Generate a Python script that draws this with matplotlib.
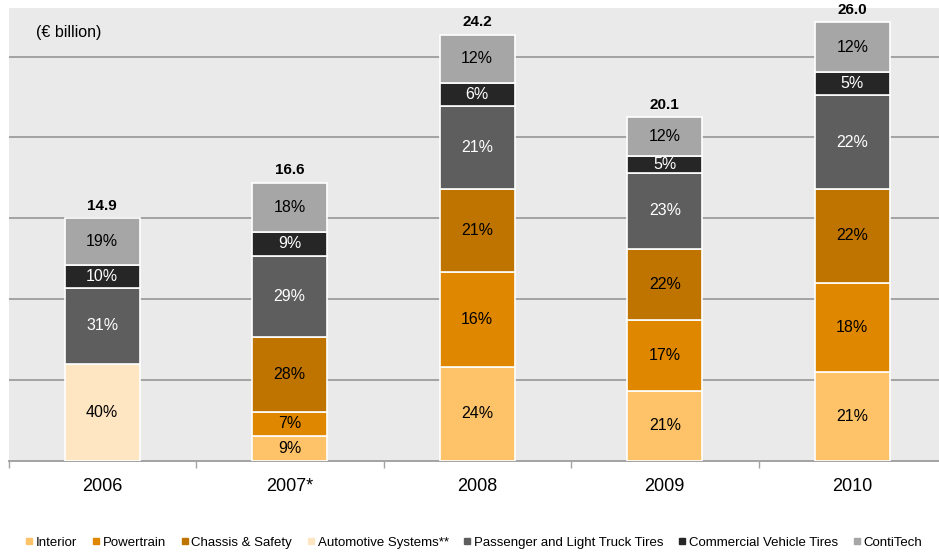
#!/usr/bin/env python3
from __future__ import annotations

import matplotlib

matplotlib.use("Agg")
import matplotlib.pyplot as plt
from matplotlib.lines import Line2D

plt.rcParams["font.family"] = ["Liberation Sans", "DejaVu Sans"]

YEARS = ["2006", "2007*", "2008", "2009", "2010"]
TOTALS = ["14.9", "16.6", "24.2", "20.1", "26.0"]

# divisional sales in EUR bn (None = no segment that year)
INTERIOR = [None, 1.56, 5.83, 4.35, 5.50]
POWERTRAIN = [None, 1.48, 5.88, 4.37, 5.52]
CHASSIS_SAFETY = [None, 4.64, 5.13, 4.41, 5.79]
AUTOMOTIVE_SYSTEMS = [6.00, None, None, None, None]
PLT_TIRES = [4.70, 5.01, 5.11, 4.68, 5.81]
CV_TIRES = [1.44, 1.45, 1.40, 1.05, 1.42]
CONTITECH = [2.87, 3.05, 3.01, 2.39, 3.09]

INTERIOR_PCT = [None, "9%", "24%", "21%", "21%"]
POWERTRAIN_PCT = [None, "7%", "16%", "17%", "18%"]
CHASSIS_SAFETY_PCT = [None, "28%", "21%", "22%", "22%"]
AUTOMOTIVE_SYSTEMS_PCT = ["40%", None, None, None, None]
PLT_TIRES_PCT = ["31%", "29%", "21%", "23%", "22%"]
CV_TIRES_PCT = ["10%", "9%", "6%", "5%", "5%"]
CONTITECH_PCT = ["19%", "18%", "12%", "12%", "12%"]

SERIES = [
    ("Interior", INTERIOR, INTERIOR_PCT, "#FEC268", "black"),
    ("Powertrain", POWERTRAIN, POWERTRAIN_PCT, "#E08700", "black"),
    ("Chassis & Safety", CHASSIS_SAFETY, CHASSIS_SAFETY_PCT, "#C07400", "black"),
    ("Automotive Systems**", AUTOMOTIVE_SYSTEMS, AUTOMOTIVE_SYSTEMS_PCT, "#FFE6C3", "black"),
    ("Passenger and Light Truck Tires", PLT_TIRES, PLT_TIRES_PCT, "#5E5E5E", "white"),
    ("Commercial Vehicle Tires", CV_TIRES, CV_TIRES_PCT, "#262626", "white"),
    ("ContiTech", CONTITECH, CONTITECH_PCT, "#A6A6A6", "black"),
]

BG = "#EAEAEA"
GRID = "#A3A3A3"


def main() -> int:
    fig = plt.figure(figsize=(9.39, 5.52), dpi=100)
    ax = fig.add_axes([8.5 / 939, 91 / 552, 930.5 / 939, 453 / 552])
    ax.set_facecolor(BG)

    x = list(range(len(YEARS)))
    bottoms = [0.0] * len(YEARS)
    for name, values, labels, color, txt_color in SERIES:
        for i, v in enumerate(values):
            if v is None:
                continue
            ax.bar(i, v, bottom=bottoms[i], width=0.4, color=color,
                   edgecolor="white", linewidth=1.2, zorder=3)
            ax.text(i, bottoms[i] + v / 2, labels[i], ha="center", va="center",
                    fontsize=11.5, color=txt_color, zorder=4)
            bottoms[i] += v

    for i, total in enumerate(TOTALS):
        ax.annotate(total, (i, bottoms[i]), xytext=(0, 4), textcoords="offset points",
                    ha="center", va="bottom", fontsize=11, fontweight="bold")

    ax.set_ylim(0, 28)
    ax.set_xlim(-0.5, 4.5 - 7 / 187.5)
    ax.set_yticks([5, 10, 15, 20, 25])
    ax.yaxis.grid(True, color=GRID, linewidth=1.4, zorder=1)
    ax.set_axisbelow(True)
    ax.tick_params(axis="y", length=0, labelleft=False)

    ax.set_xticks(x)
    ax.set_xticklabels(YEARS, fontsize=13)
    ax.set_xticks([-0.5, 0.5, 1.5, 2.5, 3.5], minor=True)
    ax.tick_params(axis="x", which="major", length=0, pad=12.5)
    ax.tick_params(axis="x", which="minor", length=5, color=GRID, width=1)

    for side in ("top", "right", "left"):
        ax.spines[side].set_visible(False)
    ax.spines["bottom"].set_color(GRID)
    ax.spines["bottom"].set_linewidth(1.4)

    ax.text(0.03, 0.945, "(€ billion)", transform=ax.transAxes, fontsize=11.5,
            ha="left", va="center")

    handles = [
        Line2D([], [], marker="s", linestyle="none", markersize=5,
               markerfacecolor=color, markeredgecolor=color, label=name)
        for name, _, _, color, _ in SERIES
    ]
    fig.legend(handles=handles, loc="center", bbox_to_anchor=(0.505, 0.017),
               ncol=7, frameon=False, fontsize=9.5, handlelength=0.5,
               handletextpad=0.25, columnspacing=1.18)

    fig.savefig("out.png", dpi=100)
    plt.close(fig)
    return 0


if __name__ == "__main__":
    raise SystemExit(main())
